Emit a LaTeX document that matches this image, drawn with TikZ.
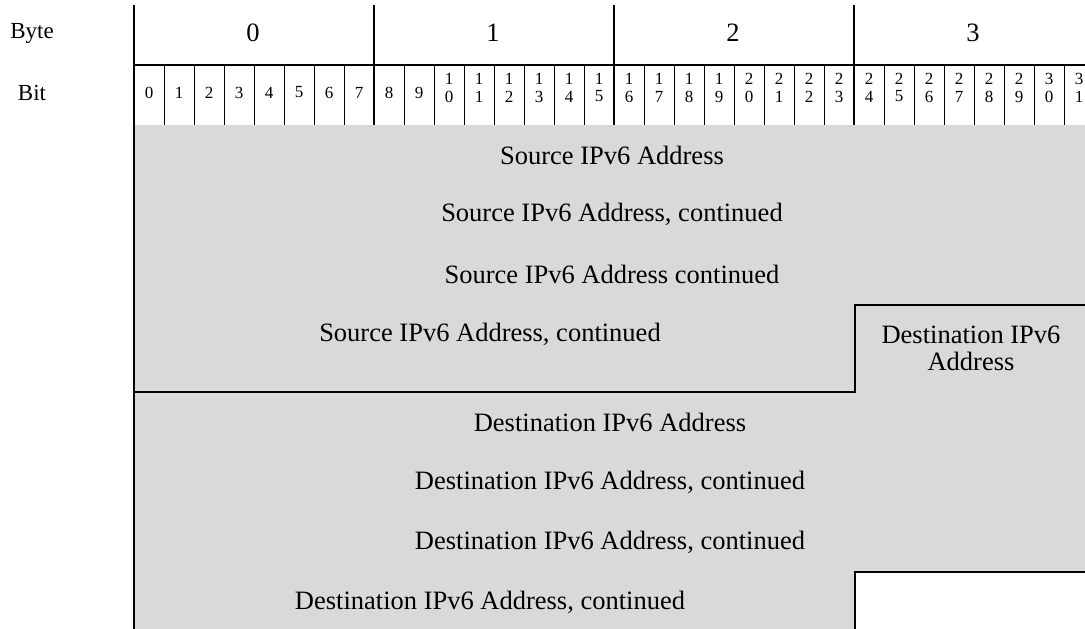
\documentclass[tikz,border=0pt]{standalone}
\usepackage{fontspec}
\setmainfont{Liberation Serif}
\definecolor{fieldgray}{HTML}{D9D9D9}
\begin{document}
\begin{tikzpicture}[x=1pt,y=-1pt,
  heavy/.style={line width=2.4pt},
  light/.style={line width=1pt},
  lbl/.style={font=\fontsize{26.5}{27}\selectfont, inner sep=0pt, align=center},
  hdr/.style={font=\fontsize{23}{26}\selectfont, inner sep=0pt},
  bytenum/.style={font=\fontsize{26.5}{28}\selectfont, inner sep=0pt},
  bitnum/.style={font=\fontsize{17}{16}\selectfont, inner sep=0pt}]
\useasboundingbox (0,0) rectangle (1085,629);
\clip (0,0) rectangle (1085,629);
% gray field area
\fill[fieldgray] (134,125) -- (1100,125) -- (1100,572) -- (855,572) -- (855,640) -- (134,640) -- cycle;
% header lines
\draw[heavy] (134,5) -- (134,640);
\draw[heavy] (134,65) -- (1100,65);
\foreach \k in {1,2,3} {
  \draw[heavy] ({134+240*\k},5) -- ({134+240*\k},125);
}
\foreach \i in {1,...,31} {
  \pgfmathtruncatemacro{\m}{mod(\i,8)}
  \ifnum\m>0
    \draw[light] ({134+30*\i},65) -- ({134+30*\i},125);
  \fi
}
% labels
\node[hdr] (byte) at (32,33) {Byte};
\node[hdr] (bit) at (32,93) {Bit};
\foreach \k in {0,1,2,3} {
  \node[bytenum] (byte\k) at ({253+240*\k},33) {\k};
}
\foreach \i in {0,...,31} {
  \ifnum\i<10
    \node[bitnum] (b\i) at ({149+30*\i},92.5) {\i};
  \else
    \pgfmathtruncatemacro{\ta}{int(\i/10)}
    \pgfmathtruncatemacro{\tb}{mod(\i,10)}
    \node[bitnum] (bt\i) at ({149+30*\i},79) {\ta};
    \node[bitnum] (b\i) at ({149+30*\i},96.5) {\tb};
  \fi
}
% field borders
\draw[heavy, line join=miter] (134,392) -- (855,392) -- (855,305) -- (1100,305);
\draw[heavy, line join=miter] (855,640) -- (855,572) -- (1100,572);
% field texts
\node[lbl] (s1) at (612,155) {Source IPv6 Address};
\node[lbl] (s2) at (612,214) {Source IPv6 Address, continued};
\node[lbl] (s3) at (612,274) {Source IPv6 Address continued};
\node[lbl] (s4) at (490,334) {Source IPv6 Address, continued};
\node[lbl] (d0) at (971,348) {Destination IPv6\\Address};
\node[lbl] (d1) at (610,422) {Destination IPv6 Address};
\node[lbl] (d2) at (610,482) {Destination IPv6 Address, continued};
\node[lbl] (d3) at (610,542) {Destination IPv6 Address, continued};
\node[lbl] (d4) at (490,602) {Destination IPv6 Address, continued};
\end{tikzpicture}
\end{document}
